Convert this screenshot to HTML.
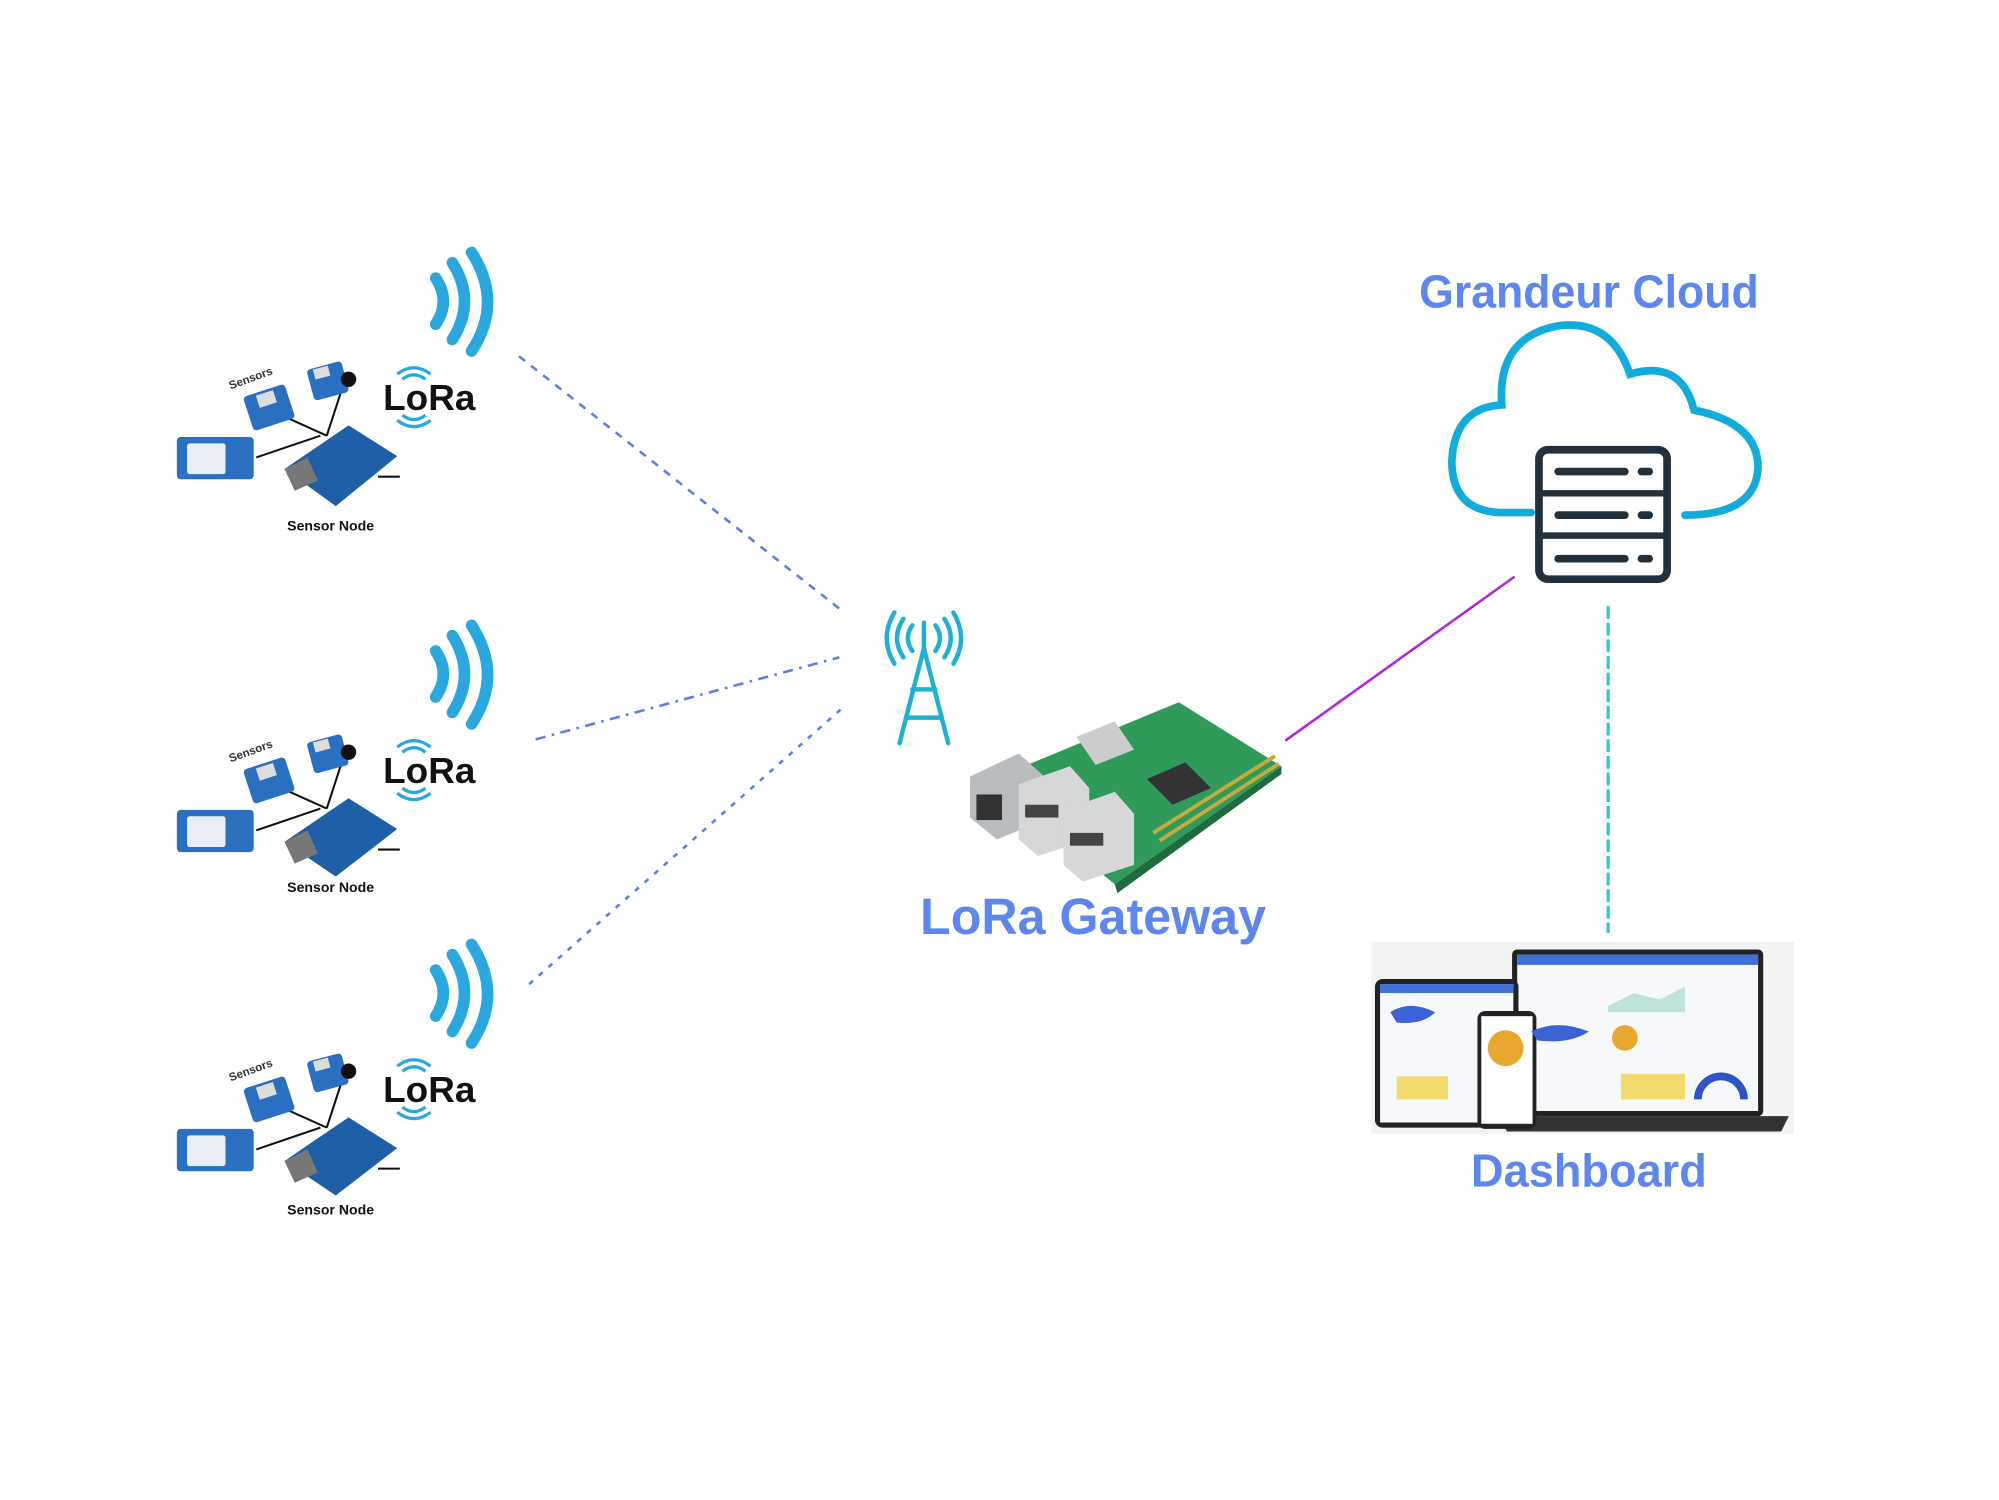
<!DOCTYPE html>
<html><head><meta charset="utf-8"><style>
html,body{margin:0;padding:0;background:#fff}
svg{display:block}
text{font-family:"Liberation Sans","DejaVu Sans",sans-serif;font-weight:bold}
</style></head><body>
<svg width="1999" height="1500" viewBox="0 0 1560 1170.6" xmlns="http://www.w3.org/2000/svg">
<rect width="1560" height="1171" fill="#fff"/>

<line x1="405" y1="278" x2="655" y2="475" stroke="#5a7fe6" stroke-width="2" stroke-dasharray="6,6"/>
<line x1="418" y1="577" x2="655" y2="513" stroke="#5a7fe6" stroke-width="2" stroke-dasharray="8,5,2,5"/>
<line x1="413" y1="768" x2="658" y2="552" stroke="#5a7fe6" stroke-width="2" stroke-dasharray="4,6"/>
<line x1="1003" y1="578" x2="1182" y2="450" stroke="#b326d6" stroke-width="2"/>
<line x1="1255" y1="473" x2="1255" y2="728" stroke="#2ec4e0" stroke-width="2.5" stroke-dasharray="10,3"/>

<g>
 <g fill="none" stroke="#29a8e0" stroke-width="9" stroke-linecap="round">
  <path d="M340 217 Q352 235 340 253"/><path d="M353 205 Q372 235 353 265"/><path d="M368 197 Q393 236 368 274"/>
 </g>
 <g stroke="#111" stroke-width="1.6"><line x1="200" y1="357" x2="250" y2="340"/><line x1="215" y1="322" x2="255" y2="340"/><line x1="268" y1="300" x2="255" y2="340"/><line x1="295" y1="372" x2="312" y2="372"/></g>
 <rect x="138" y="341" width="60" height="33" rx="3" fill="#2a6fc0"/><rect x="146" y="346" width="30" height="24" rx="2" fill="#e8eef4"/>
 <g transform="rotate(-18 210 318)"><rect x="193" y="304" width="34" height="28" rx="3" fill="#2a6fc0"/><rect x="203" y="306" width="14" height="10" fill="#ddd"/></g>
 <g transform="rotate(-15 255 298)"><rect x="242" y="285" width="28" height="25" rx="3" fill="#2a6fc0"/><rect x="247" y="286" width="12" height="8" fill="#ddd"/></g>
 <circle cx="272" cy="296" r="6" fill="#111"/>
 <polygon points="222,366 272,332 310,356 262,395" fill="#1f5fa8"/><polygon points="222,366 240,357 248,375 230,383" fill="#777"/>
 <text x="180" y="304" font-size="9" font-weight="normal" fill="#333" transform="rotate(-20 180 304)">Sensors</text>
 <text x="258" y="414" font-size="11" fill="#111" text-anchor="middle">Sensor Node</text>
 <text x="299" y="320" font-size="28" fill="#111" textLength="72" lengthAdjust="spacingAndGlyphs">LoRa</text>
 <g fill="none" stroke="#29a8e0" stroke-width="2.5"><path d="M314 296 Q323 289 332 296"/><path d="M310 292 Q323 282 336 292"/><path d="M314 324 Q323 331 332 324"/><path d="M310 328 Q323 338 336 328"/></g>
</g>
<g transform="translate(0,291)">
 <g fill="none" stroke="#29a8e0" stroke-width="9" stroke-linecap="round">
  <path d="M340 217 Q352 235 340 253"/><path d="M353 205 Q372 235 353 265"/><path d="M368 197 Q393 236 368 274"/>
 </g>
 <g stroke="#111" stroke-width="1.6"><line x1="200" y1="357" x2="250" y2="340"/><line x1="215" y1="322" x2="255" y2="340"/><line x1="268" y1="300" x2="255" y2="340"/><line x1="295" y1="372" x2="312" y2="372"/></g>
 <rect x="138" y="341" width="60" height="33" rx="3" fill="#2a6fc0"/><rect x="146" y="346" width="30" height="24" rx="2" fill="#e8eef4"/>
 <g transform="rotate(-18 210 318)"><rect x="193" y="304" width="34" height="28" rx="3" fill="#2a6fc0"/><rect x="203" y="306" width="14" height="10" fill="#ddd"/></g>
 <g transform="rotate(-15 255 298)"><rect x="242" y="285" width="28" height="25" rx="3" fill="#2a6fc0"/><rect x="247" y="286" width="12" height="8" fill="#ddd"/></g>
 <circle cx="272" cy="296" r="6" fill="#111"/>
 <polygon points="222,366 272,332 310,356 262,393" fill="#1f5fa8"/><polygon points="222,366 240,357 248,375 230,383" fill="#777"/>
 <text x="180" y="304" font-size="9" font-weight="normal" fill="#333" transform="rotate(-20 180 304)">Sensors</text>
 <text x="258" y="405" font-size="11" fill="#111" text-anchor="middle">Sensor Node</text>
 <text x="299" y="320" font-size="28" fill="#111" textLength="72" lengthAdjust="spacingAndGlyphs">LoRa</text>
 <g fill="none" stroke="#29a8e0" stroke-width="2.5"><path d="M314 296 Q323 289 332 296"/><path d="M310 292 Q323 282 336 292"/><path d="M314 324 Q323 331 332 324"/><path d="M310 328 Q323 338 336 328"/></g>
</g>
<g transform="translate(0,540)">
 <g fill="none" stroke="#29a8e0" stroke-width="9" stroke-linecap="round">
  <path d="M340 217 Q352 235 340 253"/><path d="M353 205 Q372 235 353 265"/><path d="M368 197 Q393 236 368 274"/>
 </g>
 <g stroke="#111" stroke-width="1.6"><line x1="200" y1="357" x2="250" y2="340"/><line x1="215" y1="322" x2="255" y2="340"/><line x1="268" y1="300" x2="255" y2="340"/><line x1="295" y1="372" x2="312" y2="372"/></g>
 <rect x="138" y="341" width="60" height="33" rx="3" fill="#2a6fc0"/><rect x="146" y="346" width="30" height="24" rx="2" fill="#e8eef4"/>
 <g transform="rotate(-18 210 318)"><rect x="193" y="304" width="34" height="28" rx="3" fill="#2a6fc0"/><rect x="203" y="306" width="14" height="10" fill="#ddd"/></g>
 <g transform="rotate(-15 255 298)"><rect x="242" y="285" width="28" height="25" rx="3" fill="#2a6fc0"/><rect x="247" y="286" width="12" height="8" fill="#ddd"/></g>
 <circle cx="272" cy="296" r="6" fill="#111"/>
 <polygon points="222,366 272,332 310,356 262,393" fill="#1f5fa8"/><polygon points="222,366 240,357 248,375 230,383" fill="#777"/>
 <text x="180" y="304" font-size="9" font-weight="normal" fill="#333" transform="rotate(-20 180 304)">Sensors</text>
 <text x="258" y="408" font-size="11" fill="#111" text-anchor="middle">Sensor Node</text>
 <text x="299" y="320" font-size="28" fill="#111" textLength="72" lengthAdjust="spacingAndGlyphs">LoRa</text>
 <g fill="none" stroke="#29a8e0" stroke-width="2.5"><path d="M314 296 Q323 289 332 296"/><path d="M310 292 Q323 282 336 292"/><path d="M314 324 Q323 331 332 324"/><path d="M310 328 Q323 338 336 328"/></g>
</g>

<g fill="none" stroke="#1fb0d6" stroke-width="3.5" stroke-linecap="round">
 <path d="M712 488 Q705 498 712 508"/><path d="M705 483 Q695 498 705 513"/><path d="M698 478 Q686 498 698 518"/>
 <path d="M730 488 Q737 498 730 508"/><path d="M737 483 Q747 498 737 513"/><path d="M744 478 Q756 498 744 518"/>
 <line x1="721" y1="486" x2="721" y2="506"/>
 <path d="M702 580 L721 506 L740 580"/>
 <line x1="712" y1="538" x2="730" y2="538"/><line x1="707" y1="560" x2="735" y2="560"/>
</g>

<polygon points="770,610 920,548 1000,598 870,690" fill="#2f9a5a"/>
<polygon points="870,690 1000,598 1000,604 872,697" fill="#1e6b3c"/>
<polygon points="840,575 870,563 885,585 855,597" fill="#ccc"/>
<polygon points="895,608 925,595 945,615 915,628" fill="#333"/>
<g stroke="#c9a93c" stroke-width="3"><line x1="900" y1="650" x2="995" y2="590"/><line x1="905" y1="656" x2="998" y2="596"/></g>
<polygon points="757,606 795,588 815,606 815,640 778,655 757,638" fill="#b9bcbf"/>
<rect x="762" y="620" width="20" height="20" fill="#333"/>
<polygon points="795,612 835,598 850,615 850,655 810,668 795,655" fill="#d5d7d9"/>
<polygon points="830,632 870,618 885,635 885,675 845,688 830,675" fill="#d5d7d9"/>
<rect x="800" y="628" width="26" height="10" fill="#444"/><rect x="835" y="650" width="26" height="10" fill="#444"/>

<path d="M1195 400 L1170 400 Q1133 398 1133 360 Q1135 318 1172 316 Q1168 262 1218 254 Q1258 250 1272 292 Q1312 280 1322 320 Q1372 330 1372 365 Q1370 402 1315 402" fill="none" stroke="#12acdc" stroke-width="6" stroke-linecap="round"/>
<rect x="1201" y="351" width="100" height="101" rx="7" fill="#fff" stroke="#22303c" stroke-width="6"/>
<line x1="1201" y1="385" x2="1301" y2="385" stroke="#22303c" stroke-width="5"/>
<line x1="1201" y1="418" x2="1301" y2="418" stroke="#22303c" stroke-width="5"/>
<g stroke="#22303c" stroke-width="6" stroke-linecap="round">
 <line x1="1216" y1="368" x2="1268" y2="368"/><line x1="1281" y1="368" x2="1287" y2="368"/>
 <line x1="1216" y1="402" x2="1268" y2="402"/><line x1="1281" y1="402" x2="1287" y2="402"/>
 <line x1="1216" y1="436" x2="1268" y2="436"/><line x1="1281" y1="436" x2="1287" y2="436"/>
</g>

<rect x="1070" y="735" width="330" height="150" fill="#f2f3f5"/>
<rect x="1180" y="741" width="196" height="130" rx="4" fill="#222"/>
<rect x="1184" y="745" width="188" height="122" fill="#f7f8fb"/>
<rect x="1184" y="745" width="188" height="8" fill="#3f6fd8"/>
<polygon points="1170,871 1396,871 1390,883 1176,883" fill="#333"/>
<rect x="1073" y="764" width="112" height="116" rx="6" fill="#222"/>
<rect x="1077" y="768" width="104" height="108" fill="#f7f8fb"/>
<rect x="1077" y="768" width="104" height="7" fill="#3f6fd8"/>
<rect x="1153" y="789" width="46" height="92" rx="6" fill="#222"/>
<rect x="1156" y="793" width="40" height="84" fill="#fff"/>
<circle cx="1175" cy="818" r="14" fill="#e8a830"/>
<circle cx="1268" cy="810" r="10" fill="#e8a830"/>
<rect x="1090" y="840" width="40" height="18" fill="#f1d24a" opacity=".8"/>
<rect x="1265" y="838" width="50" height="20" fill="#f1d24a" opacity=".8"/>
<path d="M1325 858 A18 18 0 0 1 1361 858" fill="none" stroke="#2d55c8" stroke-width="6"/>
<path d="M1255 785 L1275 775 L1295 780 L1315 770 L1315 790 L1255 790Z" fill="#bfe3dc"/>
<path d="M1085 790 Q1100 780 1120 790 Q1110 800 1090 798Z M1195 805 Q1215 795 1240 805 Q1225 815 1200 812Z" fill="#3b63d6"/>

<g fill="#5e86f0">
 <text x="1240" y="240" font-size="36" text-anchor="middle" textLength="265" lengthAdjust="spacingAndGlyphs">Grandeur Cloud</text>
 <text x="853" y="729" font-size="40" text-anchor="middle" textLength="270" lengthAdjust="spacingAndGlyphs">LoRa Gateway</text>
 <text x="1240" y="926" font-size="36" text-anchor="middle" textLength="184" lengthAdjust="spacingAndGlyphs">Dashboard</text>
</g>
</svg>
</body></html>
